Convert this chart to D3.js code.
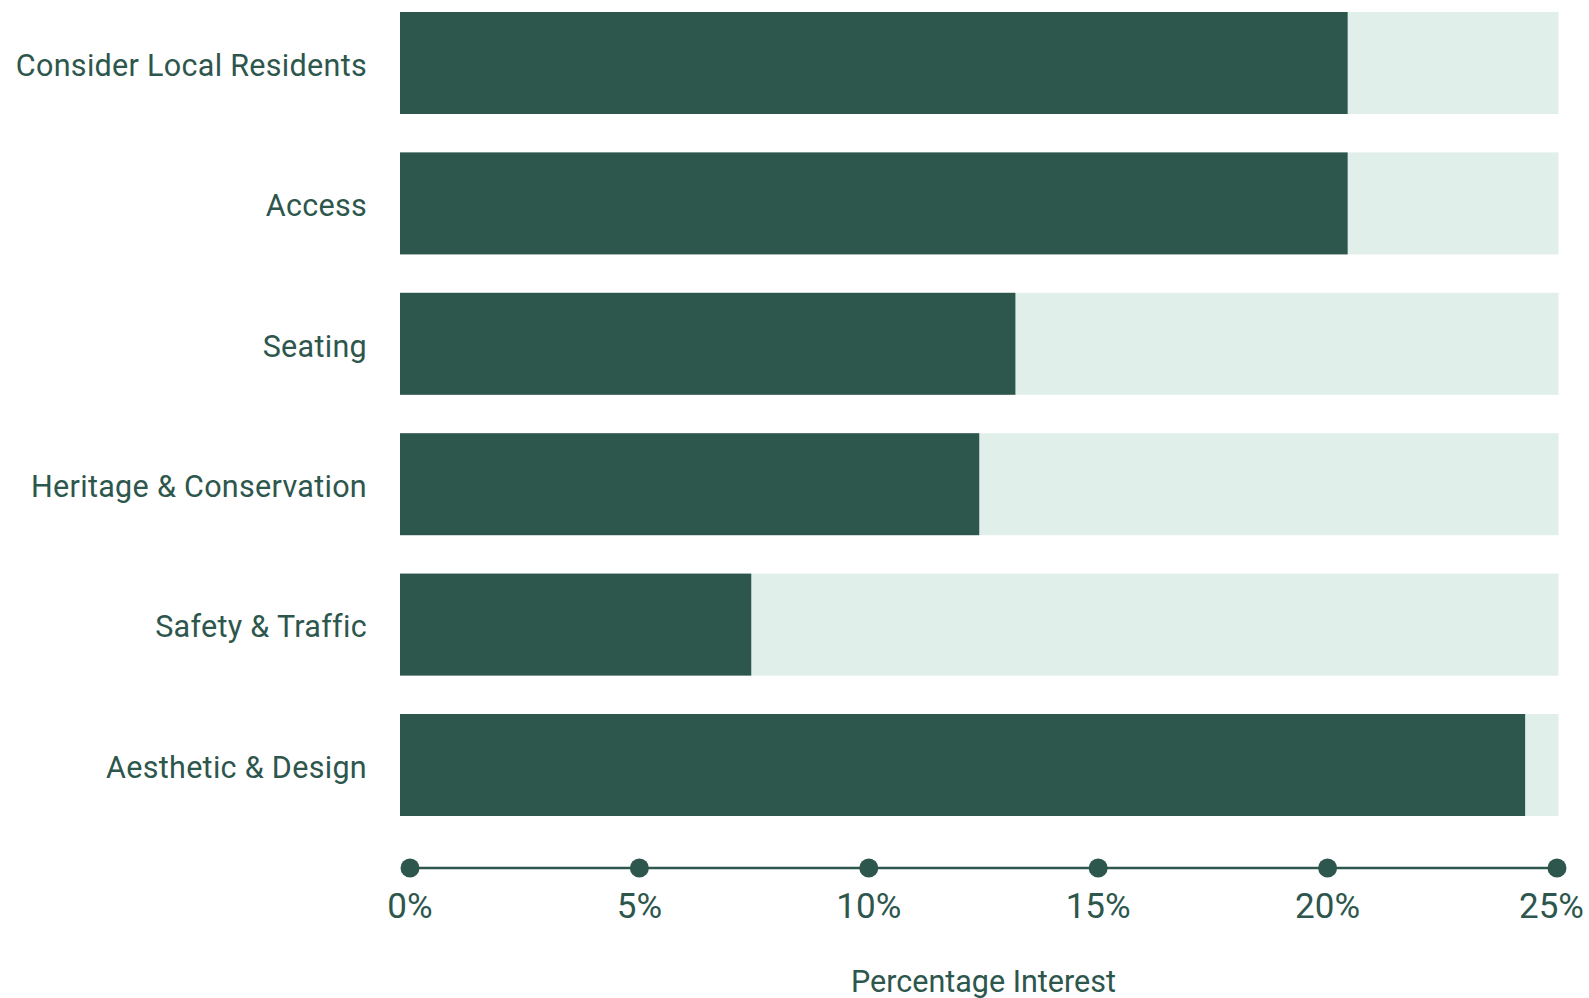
<!DOCTYPE html>
<html>
<head>
<meta charset="utf-8">
<script src="https://cdn.jsdelivr.net/npm/d3@7"></script>
<style>
  html, body { margin: 0; padding: 0; background: #ffffff; }
  svg { display: block; font-family: Roboto, "Liberation Sans", sans-serif; }
</style>
</head>
<body>
<svg id="chart" width="1589" height="998"></svg>
<script>
// Share of respondents interested in each theme (percent)
const categories = [
  "Consider Local Residents",
  "Access",
  "Seating",
  "Heritage & Conservation",
  "Safety & Traffic",
  "Aesthetic & Design"
];
const values = [20.45, 20.45, 13.28, 12.5, 7.58, 24.28];
const tickValues = [0, 5, 10, 15, 20, 25];
const axisTitle = "Percentage Interest";

const dark = "#2d564d";
const light = "#e0efea";

const svg = d3.select("#chart");
const W = 1589;

const x = d3.scaleLinear().domain([0, 25]).range([400, 1558.5]);
const xAxisScale = d3.scaleLinear().domain([0, 25]).range([410, 1557]);
const y = d3.scaleBand().domain(categories).range([12, 816]).paddingInner(0.2735).paddingOuter(0);

// background tracks
svg.append("g").selectAll("rect")
  .data(categories)
  .join("rect")
  .attr("x", x(0))
  .attr("y", d => y(d))
  .attr("width", x(25) - x(0))
  .attr("height", y.bandwidth())
  .attr("fill", light);

// value bars
svg.append("g").selectAll("rect")
  .data(categories.map((c, i) => ({ c, v: values[i] })))
  .join("rect")
  .attr("x", x(0))
  .attr("y", d => y(d.c))
  .attr("width", d => x(d.v) - x(0))
  .attr("height", y.bandwidth())
  .attr("fill", dark);

// category labels
const labelSize = 30.5;
svg.append("g").selectAll("text")
  .data(categories)
  .join("text")
  .attr("x", 367)
  .attr("y", d => y(d) + y.bandwidth() / 2 + labelSize * 0.355 + 2)
  .attr("text-anchor", "end")
  .attr("fill", dark)
  .style("font-size", labelSize + "px")
  .style("letter-spacing", "0.3px")
  .text(d => d);

// axis: line with dot markers
const axisY = 868;
const axis = svg.append("g");
axis.append("line")
  .attr("x1", xAxisScale(0)).attr("x2", xAxisScale(25))
  .attr("y1", axisY).attr("y2", axisY)
  .attr("stroke", dark).attr("stroke-width", 2.6);
axis.selectAll("circle")
  .data(tickValues)
  .join("circle")
  .attr("cx", d => xAxisScale(d))
  .attr("cy", axisY)
  .attr("r", 9.5)
  .attr("fill", dark);

const tickSize = 35;
axis.selectAll("text")
  .data(tickValues)
  .join("text")
  .attr("y", 918)
  .attr("fill", dark)
  .style("font-size", tickSize + "px")
  .text(d => d + "%")
  .each(function (d) {
    const el = d3.select(this);
    const w = this.getComputedTextLength();
    let cx = xAxisScale(d);
    // keep labels inside the canvas
    if (cx + w / 2 > W - 5) cx = W - 5 - w / 2;
    el.attr("x", cx).attr("text-anchor", "middle");
  });

// axis title
svg.append("text")
  .attr("x", (xAxisScale(0) + xAxisScale(25)) / 2)
  .attr("y", 992)
  .attr("text-anchor", "middle")
  .attr("fill", dark)
  .style("font-size", labelSize + "px")
  .text(axisTitle);
</script>
</body>
</html>
